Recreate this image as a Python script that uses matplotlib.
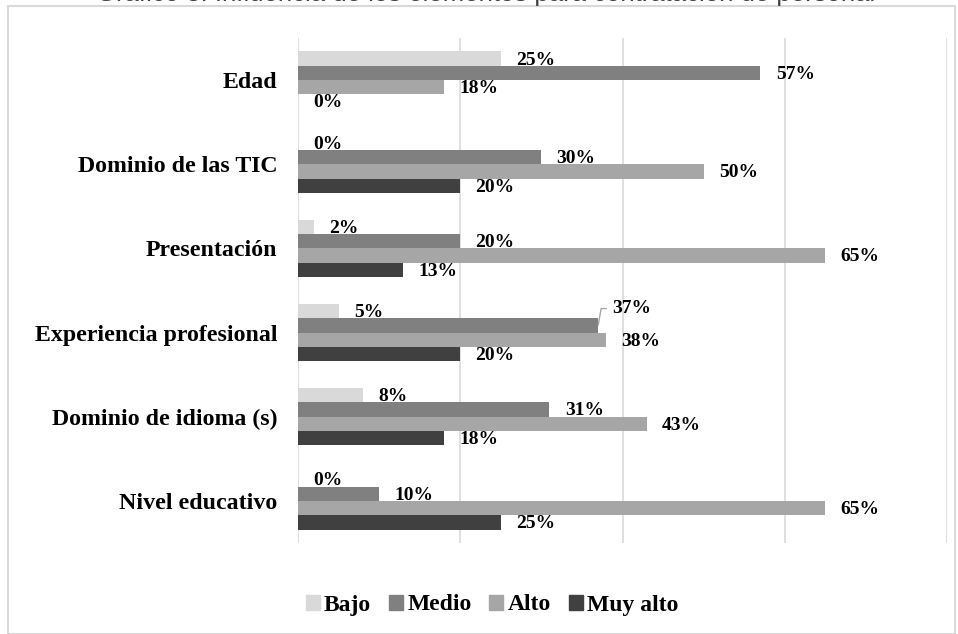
import matplotlib
matplotlib.use("Agg")
import matplotlib.pyplot as plt
import matplotlib.patches as mpatches
import numpy as np

categories = ["Edad", "Dominio de las TIC", "Presentación",
              "Experiencia profesional", "Dominio de idioma (s)", "Nivel educativo"]
series_names = ["Bajo", "Medio", "Alto", "Muy alto"]
bajo = [25, 0, 2, 5, 8, 0]
medio = [57, 30, 20, 37, 31, 10]
alto = [18, 50, 65, 38, 43, 65]
muy_alto = [0, 20, 13, 20, 18, 25]
colors = ["#d9d9d9", "#808080", "#a6a6a6", "#404040"]
x_ticks = [0, 20, 40, 60, 80]

W, H = 958, 634
fig = plt.figure(figsize=(W / 100, H / 100), dpi=100)
fig.patch.set_facecolor("white")

# outer border
fig.patches.append(mpatches.Rectangle((8 / W, 0), 947 / W, 1 - 6 / H,
                                      transform=fig.transFigure, fill=False,
                                      edgecolor="#d9d9d9", linewidth=1.5))
# partially visible title at the very top (cut in the reference too)
fig.text(486 / W, 1 - 1.2 / H, "Gráfico 3. Influencia de los elementos para contratación de personal",
         ha="center", va="baseline", fontsize=18.5, family="Liberation Sans", color="#404040")

ax = fig.add_axes([298 / W, 1 - 543 / H, 649 / W, 505 / H])
serif = "Liberation Serif"

data = [bajo, medio, alto, muy_alto]
n = len(categories)
y = np.arange(n)
bh = 0.17
for i, (vals, col, name) in enumerate(zip(data, colors, series_names)):
    pos = y - 1.5 * bh + i * bh
    ax.barh(pos, vals, height=bh, color=col, label=name, zorder=3)
    for j, (p, v) in enumerate(zip(pos, vals)):
        if name == "Medio" and categories[j] == "Experiencia profesional":
            ax.annotate(f"{v}%", xy=(v, p), xytext=(v + 1.7, p - 0.2),
                        fontsize=14, fontweight="bold", family=serif,
                        ha="left", va="center",
                        arrowprops=dict(arrowstyle="-", color="#a6a6a6", lw=1,
                                        shrinkA=2, shrinkB=0,
                                        connectionstyle="angle,angleA=0,angleB=80,rad=0"))
        else:
            ax.annotate(f"{v}%", xy=(v, p), xytext=(11, -1), textcoords="offset points",
                        fontsize=14, fontweight="bold", family=serif,
                        ha="left", va="center")

ax.set_xlim(0, 80)
ax.set_ylim(n - 0.5, -0.5)
ax.set_xticks(x_ticks)
ax.set_xticklabels([])
ax.tick_params(axis="x", length=0)
ax.set_yticks(y)
ax.set_yticklabels(categories, fontsize=17.2, fontweight="bold", family=serif)
ax.tick_params(axis="y", length=0, pad=15)
ax.grid(axis="x", color="#d9d9d9", linewidth=1.2, zorder=0)
for s in ax.spines.values():
    s.set_visible(False)

handles = [mpatches.Patch(color=c) for c in colors]
leg = fig.legend(handles, series_names, loc="center", bbox_to_anchor=(492 / W, 1 - 605 / H),
                 ncol=4, frameon=False, handlelength=0.6, handleheight=0.6,
                 handletextpad=0.18, columnspacing=0.75,
                 prop=dict(family=serif, weight="bold", size=17))

fig.savefig("out.png", dpi=100)
